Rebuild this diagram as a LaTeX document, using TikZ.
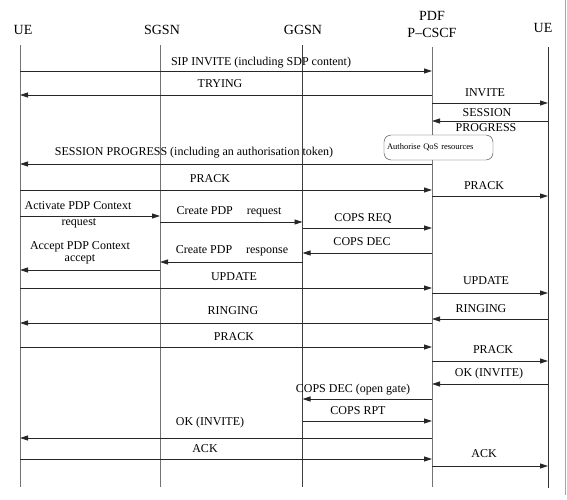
\documentclass[tikz,border=0pt]{standalone}
\usepackage{fontspec}
\setmainfont{Liberation Serif}
\usetikzlibrary{arrows.meta,positioning}
\tikzset{
  life/.style={draw=black!55,line width=0.9pt},
  msg/.style={draw=black!85,line width=0.8pt,-{Triangle[length=8pt,width=5pt]}},
  actor/.style={font=\fontsize{14}{17}\selectfont,inner sep=0pt,align=center},
  lbl/.style={font=\fontsize{12}{12}\selectfont,inner sep=0pt,align=center},
  note/.style={
  draw=black!80,
  rounded corners=2.5mm,
  fill=white,
  font=\fontsize{8.5}{10}\selectfont,
  text width=103pt,
  align=left,
  minimum height=25pt,
  inner sep=3pt
  }
}
\begin{document}
\begin{tikzpicture}[x=1pt,y=-1pt]
  \useasboundingbox (0,0) rectangle (567,499);
  \draw [black!35,line width=0.8pt] (565.7,0) -- (565.7,495);

  \node [actor] (uea) at (23,30) {UE};
  \node [actor] (sgsn) at (162,30) {SGSN};
  \node [actor] (ggsn) at (303,30) {GGSN};
  \node [actor] (pdf) at (432,24.5) {PDF\\P--CSCF};
  \node [actor] (ueb) at (543,28) {UE};

  \coordinate (uet) at (20,45);   \coordinate (ueu) at (20,487);
  \coordinate (sgt) at (160,45);  \coordinate (sgu) at (160,487);
  \coordinate (ggt) at (302.5,45);\coordinate (ggu) at (302.5,487);
  \coordinate (pdt) at (432,47);  \coordinate (pdu) at (432,487);
  \coordinate (ubt) at (548,47);  \coordinate (ubu) at (548,488);

  \draw [life] (uet) -- (ueu);
  \draw [life] (sgt) -- (sgu);
  \draw [life,draw=black!75] (ggt) -- (ggu);
  \draw [life] (pdt) -- (pdu);
  \draw [life,draw=black!80] (ubt) -- (ubu);

  \draw [msg] (uet |- 0,71) -- (pdt |- 0,71);
  \node [lbl] (m1) at (261,63) {SIP INVITE (including SDP content)};
  \draw [msg] (pdt |- 0,95) -- (uet |- 0,95);
  \node [lbl] (m2) at (220,84) {TRYING};
  \draw [msg] (pdt |- 0,103) -- (ubt |- 0,103);
  \node [lbl] (m3) at (485,93) {INVITE};
  \draw [msg] (ubt |- 0,121) -- (pdt |- 0,121);
  \node [lbl] (m4a) at (487,113) {SESSION};
  \node [lbl] (m4b) at (486,128) {PROGRESS};

  \node [note] (qos) at (438.5,147.5) {Authorise QoS resources};

  \draw [msg] (pdt |- 0,164) -- (uet |- 0,164);
  \node [lbl] (m5) at (194,153) {SESSION PROGRESS (including an authorisation token)};
  \draw [msg] (uet |- 0,190) -- (pdt |- 0,190);
  \node [lbl] (m6) at (210,179) {PRACK};
  \draw [msg] (pdt |- 0,196) -- (ubt |- 0,196);
  \node [lbl] (m7) at (484,186) {PRACK};

  \draw [msg] (uet |- 0,216) -- (sgt |- 0,216);
  \node [lbl] (m8a) at (78,206) {Activate PDP Context};
  \node [lbl] (m8b) at (79,223) {request};
  \draw [msg] (sgt |- 0,222) -- (ggt |- 0,222);
  \node [lbl] (m9) at (229,212) {Create PDP\hspace{14pt}request};
  \draw [msg] (ggt |- 0,228) -- (pdt |- 0,228);
  \node [lbl] (m10) at (363,218) {COPS REQ};
  \draw [msg] (pdt |- 0,253) -- (ggt |- 0,253);
  \node [lbl] (m11) at (362,242) {COPS DEC};
  \draw [msg] (ggt |- 0,262) -- (sgt |- 0,262);
  \node [lbl] (m12) at (232,251) {Create PDP\hspace{14pt}response};
  \draw [msg] (sgt |- 0,270) -- (uet |- 0,270);
  \node [lbl] (m13) at (80,253) {Accept PDP Context\\accept};

  \draw [msg] (uet |- 0,288) -- (pdt |- 0,288);
  \node [lbl] (m14) at (234,277) {UPDATE};
  \draw [msg] (pdt |- 0,293) -- (ubt |- 0,293);
  \node [lbl] (m15) at (486,281) {UPDATE};
  \draw [msg] (ubt |- 0,319) -- (pdt |- 0,319);
  \node [lbl] (m16) at (481,309) {RINGING};
  \draw [msg] (pdt |- 0,323) -- (uet |- 0,323);
  \node [lbl] (m17) at (233,311) {RINGING};
  \draw [msg] (uet |- 0,347) -- (pdt |- 0,347);
  \node [lbl] (m18) at (234,337) {PRACK};
  \draw [msg] (pdt |- 0,361) -- (ubt |- 0,361);
  \node [lbl] (m19) at (493,350) {PRACK};
  \draw [msg] (ubt |- 0,384) -- (pdt |- 0,384);
  \node [lbl] (m20) at (489,374) {OK (INVITE)};

  \draw [msg] (pdt |- 0,399) -- (ggt |- 0,399);
  \node [lbl] (m21) at (353,390) {COPS DEC (open gate)};
  \draw [msg] (ggt |- 0,421) -- (pdt |- 0,421);
  \node [lbl] (m22) at (358,411) {COPS RPT};
  \draw [msg] (pdt |- 0,438) -- (uet |- 0,438);
  \node [lbl] (m23) at (210,423) {OK (INVITE)};
  \draw [msg] (uet |- 0,459) -- (pdt |- 0,459);
  \node [lbl] (m24) at (205,449) {ACK};
  \draw [msg] (pdt |- 0,466) -- (ubt |- 0,466);
  \node [lbl] (m25) at (484,454) {ACK};
\end{tikzpicture}
\end{document}
